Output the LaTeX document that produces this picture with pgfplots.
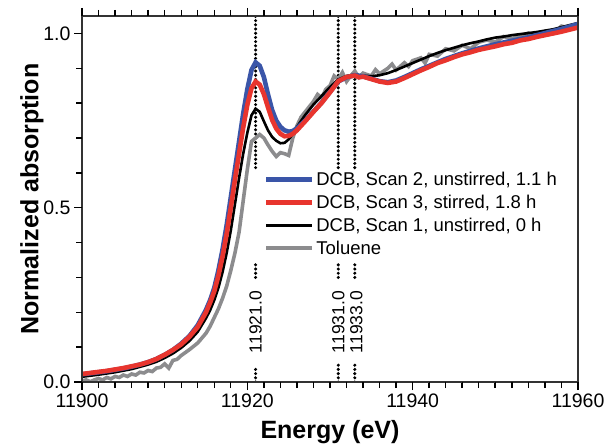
\documentclass[border=0pt]{standalone}
\usepackage{pgfplots}
\pgfplotsset{compat=1.18}
\usepackage{fontspec}
\setmainfont{Liberation Sans}
\definecolor{cblue}{HTML}{3A55A8}
\definecolor{cred}{HTML}{E8352E}
\definecolor{cgray}{HTML}{8C8C8E}
\begin{document}
\begin{tikzpicture}
\begin{axis}[
 scale only axis, width=496pt, height=366pt,
 xmin=11900, xmax=11960, ymin=0, ymax=1.05,
 xtick={11900,11920,11940,11960}, ytick={0,0.5,1},
 minor xtick={11902,11904,...,11958},
 minor ytick={0.1,0.2,0.3,0.4,0.6,0.7,0.8,0.9},
 scaled x ticks=false, scaled y ticks=false,
 tick align=outside, xtick pos=both, ytick pos=left,
 major tick length=8pt, minor tick length=6pt,
 tick style={black, line width=1.3pt},
 axis on top,
 axis line style={line width=1.4pt, black!80},
 /pgf/number format/assume math mode=true,
 x tick label style={/pgf/number format/set thousands separator={}, /pgf/number format/fixed, /pgf/number format/precision=0},
 y tick label style={/pgf/number format/fixed, /pgf/number format/fixed zerofill, /pgf/number format/precision=1},
 ticklabel style={font=\fontsize{19.5}{20}\selectfont},
 xlabel={Energy (eV)}, ylabel={Normalized absorption},
 label style={font=\bfseries\fontsize{25}{26}\selectfont},
 xlabel style={at={(axis description cs:0.5,-0.1366)}, anchor=center},
 ylabel style={at={(axis description cs:-0.1008,0.5)}, anchor=center},
 legend style={draw=none, fill=none, at={(rel axis cs:0.36,0.585)}, anchor=north west,
   font=\fontsize{18.5}{20}\selectfont, row sep=4pt},
 legend cell align=left,
 legend image code/.code={\draw[#1] (0pt,0pt) -- (46pt,0pt);},
 vline/.style={black, line width=3.4pt, dash pattern=on 0pt off 4.2pt, line cap=round},
]
\coordinate (SW) at (rel axis cs:0,0);
\coordinate (NE) at (rel axis cs:1,1);
% reference lines
\addplot[vline, forget plot] coordinates {(11921,0.615) (11921,1.06)};
\addplot[vline, forget plot] coordinates {(11921,0.30) (11921,0.34)};
\addplot[vline, forget plot] coordinates {(11921,0.0) (11921,0.045)};
\addplot[vline, forget plot] coordinates {(11931,0.615) (11931,1.06)};
\addplot[vline, forget plot] coordinates {(11931,0.30) (11931,0.34)};
\addplot[vline, forget plot] coordinates {(11931,0.0) (11931,0.055)};
\addplot[vline, forget plot] coordinates {(11933,0.615) (11933,1.06)};
\addplot[vline, forget plot] coordinates {(11933,0.30) (11933,0.34)};
\addplot[vline, forget plot] coordinates {(11933,0.0) (11933,0.055)};
\node[rotate=90, font=\fontsize{17.5}{18}\selectfont] at (axis cs:11921,0.172) {11921.0};
\node[rotate=90, font=\fontsize{17.5}{18}\selectfont] at (axis cs:11931,0.172) {11931.0};
\node[rotate=90, font=\fontsize{17.5}{18}\selectfont] at (axis cs:11933.2,0.172) {11933.0};
% Toluene
\addplot[cgray, line width=3.6pt, forget plot] table {
11900 0.003
11900.5 0.006
11901 0.001
11901.5 0.006
11902 0.010
11902.5 0.006
11903 0.013
11903.5 0.009
11904 0.016
11904.5 0.013
11905 0.020
11905.5 0.016
11906 0.023
11906.5 0.020
11907 0.028
11907.5 0.026
11908 0.033
11908.5 0.030
11909 0.040
11909.5 0.042
11910 0.052
11910.5 0.040
11911 0.062
11911.5 0.065
11912 0.076
11913 0.093
11914 0.112
11915 0.140
11915.5 0.160
11916 0.185
11916.5 0.21
11917 0.24
11917.5 0.275
11918 0.32
11918.5 0.37
11919 0.43
11919.5 0.52
11920 0.61
11920.5 0.69
11921 0.70
11921.5 0.71
11922 0.70
11922.5 0.68
11923 0.662
11923.5 0.647
11924 0.658
11924.5 0.655
11925 0.65
11925.5 0.70
11926 0.735
11926.5 0.76
11927 0.775
11927.5 0.79
11928 0.805
11928.5 0.825
11929 0.815
11929.5 0.84
11930 0.85
11930.5 0.878
11931 0.868
11931.5 0.888
11932 0.862
11932.5 0.878
11933 0.892
11933.5 0.874
11934 0.886
11935 0.878
11935.5 0.896
11936 0.884
11937 0.90
11937.5 0.912
11938 0.895
11939 0.916
11939.5 0.905
11940 0.922
11941 0.93
11941.5 0.915
11942 0.94
11943 0.935
11944 0.956
11945 0.950
11946 0.966
11947 0.956
11948 0.975
11949 0.981
11950 0.975
11951 0.991
11952 0.985
11953 0.992
11954 1.001
11955 0.992
11956 1.006
11957 1.000
11958 1.021
11959 1.015
11960 1.025
};
% Scan 1
\addplot[black, line width=2.6pt, forget plot] table {
11900 0.015
11902 0.021
11904 0.028
11906 0.037
11908 0.050
11909 0.058
11910 0.069
11911 0.082
11912 0.098
11913 0.118
11914 0.144
11915 0.183
11915.5 0.206
11916 0.235
11916.5 0.27
11917 0.315
11917.5 0.37
11918 0.435
11918.5 0.51
11919 0.585
11919.5 0.655
11920 0.715
11920.5 0.765
11921 0.784
11921.5 0.775
11922 0.748
11922.5 0.722
11923 0.703
11923.5 0.692
11924 0.685
11924.5 0.686
11925 0.696
11925.5 0.712
11926 0.732
11927 0.766
11928 0.796
11929 0.821
11930 0.846
11931 0.868
11932 0.878
11933 0.882
11934 0.879
11935 0.877
11936 0.880
11937 0.886
11938 0.895
11939 0.905
11940 0.915
11941 0.925
11942 0.935
11943 0.944
11944 0.952
11945 0.959
11946 0.966
11947 0.972
11948 0.977
11949 0.983
11950 0.988
11951 0.991
11952 0.995
11953 0.998
11954 1.001
11955 1.004
11956 1.008
11957 1.012
11958 1.018
11959 1.024
11960 1.030
};
% Scan 2
\addplot[cblue, line width=4.6pt, forget plot] table {
11900 0.022
11901 0.025
11902 0.028
11903 0.031
11904 0.035
11905 0.039
11906 0.044
11907 0.050
11908 0.057
11909 0.066
11910 0.078
11911 0.092
11912 0.110
11913 0.132
11914 0.163
11915 0.207
11915.5 0.235
11916 0.27
11916.5 0.32
11917 0.38
11917.5 0.45
11918 0.53
11918.5 0.61
11919 0.69
11919.5 0.77
11920 0.84
11920.5 0.895
11921 0.917
11921.5 0.907
11922 0.875
11922.5 0.825
11923 0.78
11923.5 0.75
11924 0.732
11924.5 0.722
11925 0.718
11925.5 0.72
11926 0.728
11927 0.75
11928 0.776
11929 0.802
11930 0.832
11931 0.862
11932 0.874
11933 0.880
11934 0.877
11935 0.870
11936 0.863
11937 0.860
11938 0.865
11939 0.875
11940 0.886
11941 0.897
11942 0.907
11943 0.917
11944 0.927
11945 0.935
11946 0.943
11947 0.950
11948 0.957
11949 0.963
11950 0.969
11951 0.974
11952 0.979
11953 0.984
11954 0.989
11955 0.995
11956 1.001
11957 1.007
11958 1.013
11959 1.020
11960 1.027
};
% Scan 3
\addplot[cred, line width=4.6pt, forget plot] table {
11900 0.023
11901 0.026
11902 0.029
11903 0.032
11904 0.036
11905 0.040
11906 0.045
11907 0.050
11908 0.057
11909 0.066
11910 0.078
11911 0.092
11912 0.108
11913 0.130
11914 0.158
11915 0.200
11915.5 0.228
11916 0.26
11916.5 0.305
11917 0.36
11917.5 0.425
11918 0.50
11918.5 0.58
11919 0.655
11919.5 0.73
11920 0.795
11920.5 0.843
11921 0.862
11921.5 0.853
11922 0.826
11922.5 0.788
11923 0.752
11923.5 0.727
11924 0.712
11924.5 0.705
11925 0.706
11925.5 0.712
11926 0.722
11927 0.748
11928 0.775
11929 0.801
11930 0.831
11931 0.863
11932 0.875
11933 0.879
11933.5 0.874
11934 0.876
11935 0.869
11936 0.862
11937 0.858
11938 0.862
11939 0.872
11940 0.883
11941 0.894
11942 0.904
11943 0.915
11944 0.923
11945 0.932
11946 0.940
11947 0.946
11948 0.953
11949 0.958
11950 0.963
11951 0.969
11952 0.973
11953 0.980
11954 0.984
11955 0.990
11956 0.995
11957 1.000
11958 1.005
11959 1.011
11960 1.017
};
\addlegendimage{cblue, line width=4.6pt}
\addlegendentry{DCB, Scan 2, unstirred, 1.1 h}
\addlegendimage{cred, line width=4.6pt}
\addlegendentry{DCB, Scan 3, stirred, 1.8 h}
\addlegendimage{black, line width=2.6pt}
\addlegendentry{DCB, Scan 1, unstirred, 0 h}
\addlegendimage{cgray, line width=3.6pt}
\addlegendentry{Toluene}
\end{axis}
% explicit tick marks (axis decoration)
\foreach \i in {0,...,30} {
  \pgfmathsetmacro{\tl}{ifthenelse(mod(\i,10)==0,8,6)}
  \draw[black, line width=1.3pt] ([xshift=\i*16.5333pt]SW) -- ++(0,-\tl pt);
  \draw[black, line width=1.3pt] ([xshift=\i*16.5333pt]SW |- NE) -- ++(0,\tl pt);
}
\foreach \j in {0,...,10} {
  \pgfmathsetmacro{\tl}{ifthenelse(mod(\j,5)==0,8,6)}
  \draw[black, line width=1.3pt] ([yshift=\j*34.8571pt]SW) -- ++(-\tl pt,0);
}
\pgfresetboundingbox
\path[use as bounding box] ([xshift=-82pt,yshift=-65pt]SW) rectangle ([xshift=33pt,yshift=16pt]NE);
\end{tikzpicture}
\end{document}
